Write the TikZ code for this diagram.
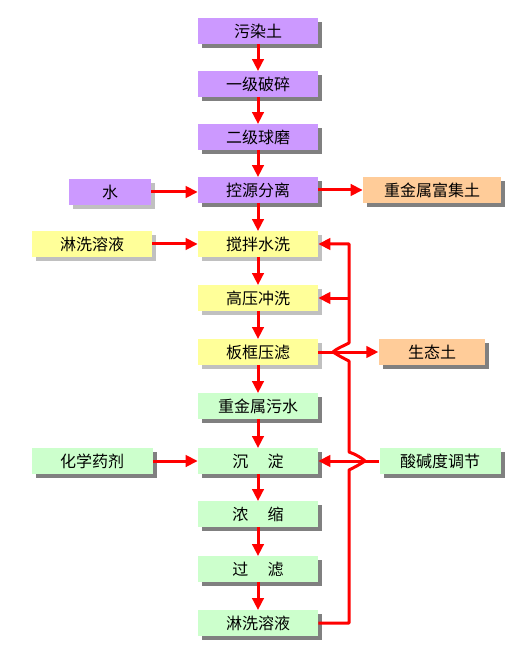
\documentclass[tikz,border=0pt]{standalone}
\usepackage{fontspec}
\newfontfamily\cjk{Noto Sans CJK SC}
\usetikzlibrary{arrows.meta,shadows}
\definecolor{cpurple}{HTML}{CC99FF}
\definecolor{cyellow}{HTML}{FFFF99}
\definecolor{cgreen}{HTML}{CCFFCC}
\definecolor{corange}{HTML}{FFCC99}
\definecolor{sdark}{HTML}{808080}
\definecolor{slight}{HTML}{C0C0C0}
\definecolor{cred}{HTML}{FF0000}
\begin{document}
\begin{tikzpicture}[x=0.75pt,y=-0.75pt,
  base/.style={minimum width=90pt, minimum height=19pt, inner sep=0pt,
    font=\cjk\fontsize{12}{14}\selectfont},
  sd/.style={drop shadow={shadow xshift=3pt,shadow yshift=-3pt,fill=#1,opacity=1}},
  pbox/.style={base, sd=sdark, fill=cpurple},
  wbox/.style={base, sd=slight, fill=cpurple},
  ybox/.style={base, sd=slight, fill=cyellow},
  gbox/.style={base, sd=sdark, fill=cgreen},
  obox/.style={base, sd=sdark, fill=corange},
  redline/.style={draw=cred, line width=2.25pt, line join=round},
  arr/.style={redline, -{Triangle[length=9pt,width=8.5pt]}}]
\fill[white] (0,0) rectangle (531,648);
\useasboundingbox (0,0) rectangle (531,648);

% main column
\node[pbox] (n1) at (258,31) {污染土};
\node[pbox] (n2) at (258,84) {一级破碎};
\node[pbox] (n3) at (258,137) {二级球磨};
\node[pbox] (n4) at (258,190) {控源分离};
\node[ybox] (n5) at (258,244) {搅拌水洗};
\node[ybox] (n6) at (258,298) {高压冲洗};
\node[ybox] (n7) at (258,352) {板框压滤};
\node[gbox] (n8) at (258,406) {重金属污水};
\node[gbox] (n9) at (258,461) {沉\hspace{1.2em}淀};
\node[gbox] (n10) at (258,514) {浓\hspace{1.2em}缩};
\node[gbox] (n11) at (258,569) {过\hspace{1.2em}滤};
\node[gbox] (n12) at (258,623) {淋洗溶液};

% side boxes
\node[wbox, minimum width=61.5pt] (w) at (110,192) {水};
\node[ybox] (ly) at (92,244) {淋洗溶液};
\node[gbox, minimum width=90.75pt] (hx) at (92,461) {化学药剂};
\node[obox, minimum width=103.5pt] (zj) at (432,190) {重金属富集土};
\node[obox, minimum width=80pt] (st) at (432,352) {生态土};
\node[gbox, minimum width=90.75pt] (sj) at (440,461) {酸碱度调节};

% main arrows
\foreach \a/\b in {n1/n2,n2/n3,n3/n4,n4/n5,n5/n6,n6/n7,n7/n8,n8/n9,n9/n10,n10/n11,n11/n12}
  \draw[arr] (\a.south) -- (\b.north);

% side arrows
\draw[arr] (w.east) -- (w.east -| n4.west);
\draw[arr] (ly.east) -- (n5.west);
\draw[arr] (hx.east) -- (n9.west);
\draw[arr] (n4.east) -- (zj.west);
\draw[arr] (n7.east) -- (st.west);
\draw[arr] (sj.west) -- (n9.east);

% feedback line with bridges
\coordinate (fbx) at (349,0);
\coordinate (b2l) at (349,470);
\coordinate (b2a) at (365,461);
\coordinate (b2u) at (349,452);
\coordinate (b1l) at (349,361);
\coordinate (b1a) at (333,352);
\coordinate (b1u) at (349,343);
\draw[arr] (n12.east) -- (n12.east -| fbx) -- (b2l)
  .. controls (357,466) and (362,463) .. (b2a)
  .. controls (362,458) and (355,454) .. (b2u)
  -- (b1l)
  .. controls (341,357) and (336,354) .. (b1a)
  .. controls (336,349) and (343,346) .. (b1u)
  -- (n5.east -| fbx) -- (n5.east);
\draw[arr] (n6.east -| fbx) -- (n6.east);
\end{tikzpicture}
\end{document}
